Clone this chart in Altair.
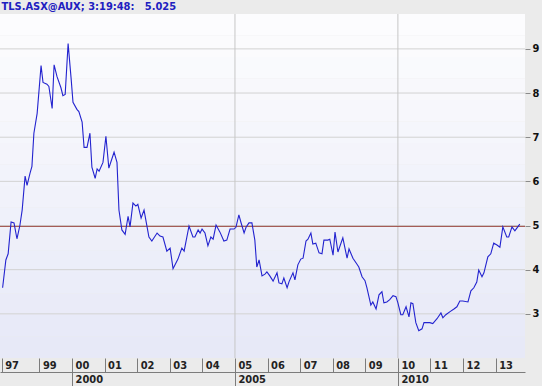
import altair as alt
import pandas as pd

# ---- data ----
years = [
    1997.87, 1997.97, 1998.04, 1998.13, 1998.22, 1998.31, 1998.40, 1998.47, 1998.56, 1998.62,
    1998.71, 1998.77, 1998.83, 1998.93, 1999.05, 1999.11, 1999.23, 1999.29, 1999.39, 1999.45,
    1999.54, 1999.66, 1999.72, 1999.79, 1999.88, 1999.97, 2000.03, 2000.15, 2000.21, 2000.31,
    2000.37, 2000.46, 2000.55, 2000.61, 2000.71, 2000.77, 2000.83, 2000.95, 2001.04, 2001.13,
    2001.29, 2001.38, 2001.44, 2001.53, 2001.63, 2001.72, 2001.78, 2001.87, 2001.96, 2002.02,
    2002.12, 2002.21, 2002.36, 2002.45, 2002.61, 2002.70, 2002.79, 2002.91, 2003.01, 2003.10,
    2003.25, 2003.37, 2003.44, 2003.59, 2003.71, 2003.77, 2003.87, 2003.93, 2003.99, 2004.08,
    2004.17, 2004.26, 2004.33, 2004.42, 2004.54, 2004.66, 2004.75, 2004.85, 2004.97, 2005.03,
    2005.12, 2005.18, 2005.28, 2005.34, 2005.43, 2005.52, 2005.61, 2005.67, 2005.74, 2005.83,
    2005.92, 2005.98, 2006.07, 2006.17, 2006.29, 2006.35, 2006.44, 2006.50, 2006.60, 2006.66,
    2006.78, 2006.84, 2006.93, 2007.02, 2007.09, 2007.18, 2007.24, 2007.33, 2007.39, 2007.48,
    2007.58, 2007.67, 2007.73, 2007.85, 2007.91, 2008.01, 2008.07, 2008.16, 2008.31, 2008.44,
    2008.50, 2008.62, 2008.74, 2008.80, 2008.90, 2008.99, 2009.05, 2009.17, 2009.23, 2009.33,
    2009.42, 2009.51, 2009.57, 2009.66, 2009.75, 2009.85, 2009.94, 2010.00, 2010.09, 2010.15,
    2010.25, 2010.34, 2010.40, 2010.46, 2010.55, 2010.64, 2010.74, 2010.80, 2010.89, 2010.98,
    2011.07, 2011.20, 2011.32, 2011.38, 2011.47, 2011.60, 2011.72, 2011.81, 2011.90, 2011.99,
    2012.15, 2012.24, 2012.33, 2012.42, 2012.48, 2012.58, 2012.64, 2012.76, 2012.85, 2012.94,
    2013.04, 2013.13, 2013.22, 2013.34, 2013.40, 2013.50, 2013.59, 2013.65, 2013.74,
]
prices = [
    3.59, 4.22, 4.36, 5.08, 5.06, 4.70, 5.00, 5.35, 6.12, 5.91,
    6.18, 6.34, 7.09, 7.54, 8.62, 8.24, 8.20, 8.15, 7.65, 8.64,
    8.37, 8.12, 7.94, 7.97, 9.12, 8.35, 7.79, 7.63, 7.58, 7.34,
    6.77, 6.77, 7.09, 6.32, 6.07, 6.28, 6.23, 6.43, 7.02, 6.30,
    6.66, 6.43, 5.35, 4.90, 4.80, 5.21, 4.97, 5.51, 5.44, 5.48,
    5.17, 5.35, 4.74, 4.65, 4.83, 4.76, 4.74, 4.42, 4.49, 4.02,
    4.24, 4.49, 4.42, 4.99, 4.74, 4.74, 4.90, 4.83, 4.92, 4.83,
    4.54, 4.74, 4.69, 5.01, 4.85, 4.65, 4.67, 4.92, 4.92, 4.96,
    5.24, 5.08, 4.83, 4.96, 5.06, 5.06, 4.67, 4.06, 4.22, 3.86,
    3.90, 3.95, 3.86, 3.74, 3.93, 3.70, 3.68, 3.81, 3.59, 3.73,
    3.93, 3.77, 4.11, 4.24, 4.26, 4.65, 4.69, 4.83, 4.58, 4.60,
    4.38, 4.36, 4.67, 4.67, 4.69, 4.33, 4.85, 4.40, 4.72, 4.26,
    4.47, 4.26, 4.13, 4.06, 3.84, 3.75, 3.59, 3.20, 3.27, 3.11,
    3.43, 3.50, 3.25, 3.27, 3.32, 3.41, 3.39, 3.25, 2.98, 2.98,
    3.16, 2.93, 3.25, 3.23, 2.80, 2.62, 2.66, 2.80, 2.80, 2.80,
    2.78, 2.89, 3.02, 2.91, 2.98, 3.05, 3.11, 3.16, 3.29, 3.29,
    3.27, 3.52, 3.59, 3.72, 3.99, 3.84, 3.93, 4.29, 4.36, 4.60,
    4.56, 4.51, 4.97, 4.74, 4.74, 4.97, 4.88, 4.94, 5.03,
]

x_domain = [1997.79, 2013.90]
y_domain = [2.0, 9.79]
year_ticks = [1997.84, 1999, 2000, 2001, 2002, 2003, 2004, 2005, 2006,
              2007, 2008, 2009, 2010, 2011, 2012, 2013]
major_ticks = [2000, 2005, 2010]
grid_years = [2005, 2010]
y_ticks = [3, 4, 5, 6, 7, 8, 9]
ref_level = 4.98
title_text = "TLS.ASX@AUX; 3:19:48:\u00a0\u00a0\u00a05.025"

FONT = "DejaVu Sans Condensed"
W, H = 525, 344

# background shading (style only): bands fading from lavender (bottom) to white (top)
N_BANDS = 16
bottom_rgb = (0xE6, 0xE8, 0xF7)
top_rgb = (0xFD, 0xFD, 0xFE)
band_lo, band_hi, band_col = [], [], []
step = (y_domain[1] - y_domain[0]) / N_BANDS
for i in range(N_BANDS):
    t = (i + 0.5) / N_BANDS
    rgb = [round(b + (tp - b) * t) for b, tp in zip(bottom_rgb, top_rgb)]
    band_lo.append(y_domain[0] + i * step)
    band_hi.append(y_domain[0] + (i + 1) * step)
    band_col.append("#%02x%02x%02x" % tuple(rgb))

df = pd.DataFrame({"year": years, "price": prices})

xscale = alt.Scale(domain=x_domain, nice=False, zero=False)
yscale = alt.Scale(domain=y_domain, nice=False, zero=False)

yaxis = alt.Axis(
    orient="right", values=y_ticks, grid=False,
    domain=False, tickSize=5, tickColor="#8a8a8a", labelPadding=2,
    labelFont=FONT, labelFontSize=11, labelFontWeight="bold",
    labelColor="#111111", format="d", title=None,
)

bg = alt.Chart(pd.DataFrame({"lo": band_lo, "hi": band_hi, "c": band_col})).mark_rect(
    strokeWidth=0
).encode(
    y=alt.Y("lo:Q", scale=yscale, axis=yaxis),
    y2="hi:Q",
    color=alt.Color("c:N", scale=None, legend=None),
)

hgrid = alt.Chart(pd.DataFrame({"v": y_ticks})).mark_rule(
    color="#d2d2d2", strokeWidth=1
).encode(y=alt.Y("v:Q", scale=yscale, axis=yaxis))

vgrid_layer_data = pd.DataFrame({"g": grid_years})

ref = alt.Chart(pd.DataFrame({"r": [ref_level]})).mark_rule(
    color="#9c4a44", strokeWidth=1
).encode(y=alt.Y("r:Q", scale=yscale, axis=yaxis))

line = alt.Chart(df).mark_line(color="#2323cf", strokeWidth=1.1).encode(
    x=alt.X(
        "year:Q", scale=xscale, title=None,
        axis=alt.Axis(
            orient="bottom", values=year_ticks, grid=False, domain=False,
            tickSize=14, tickColor="#7c7c7c", tickWidth=1,
            labelExpr="slice('0' + (floor(datum.value) % 100), -2)",
            labelAlign="left", labelBaseline="top", labelPadding=-13, labelOffset=3,
            labelFont=FONT, labelFontSize=11, labelFontWeight="bold",
            labelColor="#222222", labelOverlap=False, labelFlush=False,
        ),
    ),
    y=alt.Y("price:Q", scale=yscale, axis=yaxis),
)

major_axis = alt.Axis(
    orient="bottom", offset=14, values=major_ticks, grid=False,
    domain=True, domainColor="#7c7c7c", domainWidth=1,
    tickSize=14, tickColor="#7c7c7c", tickWidth=1,
    labelExpr="'' + datum.value",
    labelAlign="left", labelBaseline="top", labelPadding=-13, labelOffset=3,
    labelFont=FONT, labelFontSize=11, labelFontWeight="bold",
    labelColor="#222222", labelOverlap=False, labelFlush=False, title=None,
)

# vertical grid lines at the major years (rule marks), carrying the second-row axis
vgrid = alt.Chart(vgrid_layer_data).mark_rule(color="#c6c6c6", strokeWidth=1).encode(
    x=alt.X("g:Q", scale=xscale, axis=major_axis),
)

chart = alt.layer(bg, hgrid, vgrid, ref, line).resolve_axis(x="independent").properties(
    width=W, height=H,
    autosize=alt.AutoSizeParams(type="none"),
    padding={"left": 0, "top": 14, "right": 17, "bottom": 28},
    background="#ebebeb",
    title=alt.TitleParams(
        text=title_text, anchor="start", orient="top", offset=2, dx=2,
        font=FONT, fontSize=11, fontWeight="bold", color="#2020c0",
    ),
).configure_view(stroke=None)

chart.save("out.html", embed_options={"renderer": "svg", "actions": False})
